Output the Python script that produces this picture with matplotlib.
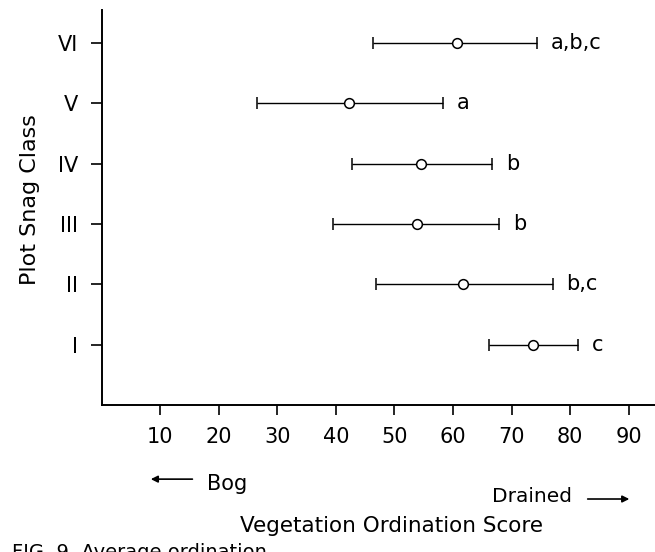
import matplotlib.pyplot as plt

plt.rcParams['font.family'] = ['DejaVu Sans']

# snag classes, bottom to top
classes = ['I', 'II', 'III', 'IV', 'V', 'VI']
means = [73.6, 61.8, 53.8, 54.6, 42.3, 60.7]
lows = [66.1, 46.9, 39.6, 42.8, 26.6, 46.4]
highs = [81.3, 77.0, 67.8, 66.6, 58.3, 74.3]
groups = ['c', 'b,c', 'b', 'b', 'a', 'a,b,c']
xticks = [10, 20, 30, 40, 50, 60, 70, 80, 90]

fig = plt.figure(figsize=(6.55, 5.52), dpi=100)
ax = fig.add_axes([0.155, 0.266, 0.845, 0.716])

ypos = list(range(1, len(classes) + 1))
err_lo = [m - l for m, l in zip(means, lows)]
err_hi = [h - m for m, h in zip(means, highs)]

ax.errorbar(means, ypos, xerr=[err_lo, err_hi], fmt='o', color='black',
            mfc='white', mec='black', ms=7, mew=1.1, elinewidth=1.0,
            capsize=4, capthick=1.0)

# significance group letters to the right of each bar
for h, y, g in zip(highs, ypos, groups):
    ax.text(h + 2.4, y, g, fontsize=15, va='center', ha='left')

ax.set_xlim(0, 94.5)
ax.set_ylim(0, 6.55)
ax.set_xticks(xticks)
ax.set_yticks(ypos)
ax.set_yticklabels(classes)
ax.spines['top'].set_visible(False)
ax.spines['right'].set_visible(False)
ax.spines['left'].set_linewidth(1.4)
ax.spines['bottom'].set_linewidth(1.4)
ax.tick_params(axis='x', direction='out', length=7, width=1.2, labelsize=15, pad=9)
ax.tick_params(axis='y', direction='out', length=8, width=1.2, labelsize=15, pad=9)

ax.set_ylabel('Plot Snag Class', fontsize=16)
ax.yaxis.set_label_coords(-0.111, 0.52)

fig.text(0.316, 0.123, 'Bog', fontsize=15, va='center', ha='left')
ax.annotate('', xy=(0.226, 0.132), xytext=(0.298, 0.132), xycoords='figure fraction',
            annotation_clip=False,
            arrowprops=dict(arrowstyle='-|>', color='black', lw=1.2, mutation_scale=10))
fig.text(0.751, 0.100, 'Drained', fontsize=14.5, va='center', ha='left')
ax.annotate('', xy=(0.965, 0.096), xytext=(0.893, 0.096), xycoords='figure fraction',
            annotation_clip=False,
            arrowprops=dict(arrowstyle='-|>', color='black', lw=1.2, mutation_scale=10))
fig.text(0.598, 0.047, 'Vegetation Ordination Score', fontsize=15.5, ha='center', va='center')
fig.text(0.018, -0.011, 'FIG. 9. Average ordination', fontsize=14, ha='left', va='baseline')

fig.savefig('out.png', dpi=100)
